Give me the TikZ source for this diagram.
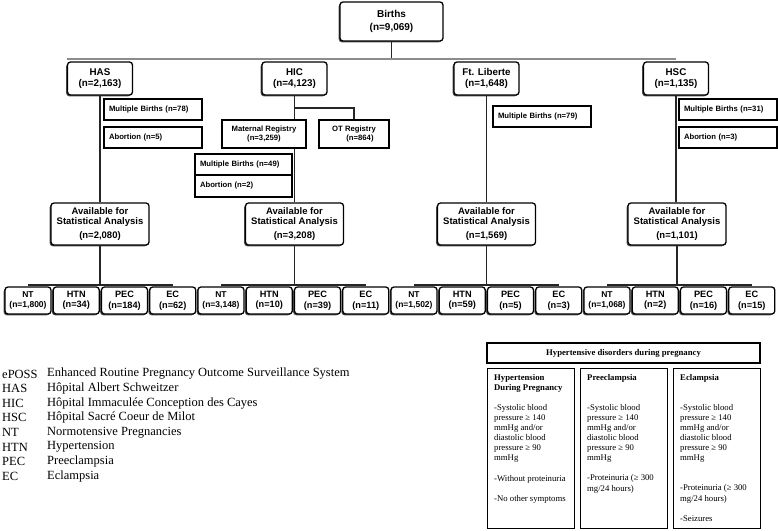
\documentclass[tikz,border=0pt]{standalone}
\usepackage{fontspec}
\setmainfont{Liberation Sans}
\newfontfamily\tnr{Liberation Serif}
\usetikzlibrary{shadows}

\tikzset{
    box/.style={draw, line width=1.3pt, rounded corners=3pt, fill=white, align=center, inner sep=0pt,
        drop shadow={shadow xshift=-1.3pt, shadow yshift=-1.3pt, fill=black!70, opacity=1}},
    sitebox/.style={box, minimum width=65pt, minimum height=33pt, font=\bfseries\fontsize{9.8}{11}\selectfont},
    availbox/.style={box, minimum width=98pt, minimum height=42pt, font=\bfseries\fontsize{9.5}{10.5}\selectfont},
    outbox/.style={box, minimum width=46pt, minimum height=27pt},
    exclbox/.style={draw, line width=1.1pt, fill=white, inner xsep=5pt, inner ysep=0pt, text width=#1,
        minimum height=21pt, align=left, font=\bfseries\fontsize{7.7}{9}\selectfont},
    exclbox/.default=88pt,
    regbox/.style={draw, line width=1.1pt, fill=white, inner sep=0pt, minimum height=28pt, align=center,
        font=\bfseries\fontsize{7.7}{9.5}\selectfont},
    link/.style={line width=1.1pt, black!85},
    abbr/.style={anchor=west, inner sep=0pt, font=\tnr\fontsize{12.5}{14}\selectfont},
    tabbox/.style={draw, line width=1.1pt, inner sep=0pt, anchor=north west},
    tabtext/.style={anchor=north west, inner sep=0pt, align=left, font=\tnr\fontsize{8.7}{10.1}\selectfont}
}

\begin{document}
\begin{tikzpicture}[x=1pt, y=-1pt]
    \useasboundingbox (0,0) rectangle (778,530);

    % Top of the tree
    \node[box, minimum width=103pt, minimum height=39pt, font=\bfseries\fontsize{10}{13}\selectfont] (births) at (391.5,21.5) {Births\\(n=9,069)};
    \coordinate (bus) at (0,59);

    % Sites
    \node[sitebox] (has) at (100,78.5) {HAS\\(n=2,163)};
    \node[sitebox] (hic) at (294.5,78.5) {HIC\\(n=4,123)};
    \node[sitebox] (ftl) at (486.5,78.5) {Ft. Liberte\\(n=1,648)};
    \node[sitebox] (hsc) at (676,78.5) {HSC\\(n=1,135)};

    \draw[link] (births.south) -- (births.south |- bus);
    \draw[line width=1.1pt, black!45] (has.north west |- bus) -- (hsc.north |- bus);

    % HAS exclusions
    \node[exclbox] (hasmb) at (153,109.5) {Multiple Births (n=78)};
    \node[exclbox] (hasab) at (153,137.5) {Abortion (n=5)};

    % HIC registries and exclusions
    \node[regbox, minimum width=84pt] (matreg) at (264,134) {Maternal Registry\\(n=3,259)};
    \node[regbox, minimum width=70pt] (otreg) at (354,134) {OT Registry\\\hspace*{12pt}(n=864)};
    \node[exclbox=87pt] (hicmb) at (243.5,164.5) {Multiple Births (n=49)};
    \node[exclbox=87pt, minimum height=22pt] (hicab) at (243.5,186) {Abortion (n=2)};

    % Ft. Liberte and HSC exclusions
    \node[exclbox] (ftlmb) at (542,116.5) {Multiple Births (n=79)};
    \node[exclbox] (hscmb) at (728,109.5) {Multiple Births (n=31)};
    \node[exclbox] (hscab) at (728,137.5) {Abortion (n=3)};

    % Available for analysis
    \node[availbox] (avhas) at (100,224) {Available for\\Statistical Analysis\\[3pt](n=2,080)};
    \node[availbox] (avhic) at (294.5,224) {Available for\\Statistical Analysis\\[3pt](n=3,208)};
    \node[availbox] (avftl) at (486.5,224) {Available for\\Statistical Analysis\\[3pt](n=1,569)};
    \node[availbox] (avhsc) at (677,224) {Available for\\Statistical Analysis\\[3pt](n=1,101)};

    \draw[link] (has.south) -- (avhas.north);
    \draw[link] (hic.south) -- (hic.south |- matreg.north);
    \draw[link] (matreg.south -| hic.south) -- (avhic.north);
    \coordinate (split) at (0,108);
    \draw[link] (hic.south |- split) -- (otreg.north |- split) -- (otreg.north);
    \draw[link] (ftl.south) -- (avftl.north);
    \draw[link] (hsc.south) -- (hsc.south |- avhsc.north);

    % Outcomes
    \coordinate (bar) at (0,285);
    \foreach \lab/\num/\fs [count=\i from 0] in {NT/{1,800}/8.5, HTN/34/9.2, PEC/184/9.2, EC/62/9.2,
        NT/{3,148}/8.5, HTN/10/9.2, PEC/39/9.2, EC/11/9.2,
        NT/{1,502}/8.5, HTN/59/9.2, PEC/5/9.2, EC/3/9.2,
        NT/{1,068}/8.5, HTN/2/9.2, PEC/16/9.2, EC/15/9.2} {
        \node[outbox, font=\bfseries\fontsize{\fs}{10.5}\selectfont] (o\i) at (28+48.25*\i,300.5) {\lab\\(n=\num)};
    }
    \foreach \av/\a/\b in {avhas/0/3, avhic/4/7, avftl/8/11, avhsc/12/15} {
        \draw[link] (\av.south) -- (\av.south |- bar);
        \draw[link] (o\a.north |- bar) -- (o\b.north |- bar);
    }

    % Abbreviations
    \foreach \ab/\txt [count=\i from 0] in {ePOSS/Enhanced Routine Pregnancy Outcome Surveillance System,
        HAS/Hôpital Albert Schweitzer, HIC/Hôpital Immaculée Conception des Cayes,
        HSC/Hôpital Sacré Coeur de Milot, NT/Normotensive Pregnancies, HTN/Hypertension,
        PEC/Preeclampsia, EC/Eclampsia} {
        \node[abbr] (ab\i) at (2,374+14.6*\i) {\ab};
        \node[abbr] (de\i) at (47,374+14.6*\i) {\txt};
    }

    % Table of definitions
    \node[draw, line width=1.1pt, minimum width=273pt, minimum height=20pt, inner sep=0pt,
        font=\tnr\bfseries\fontsize{8.7}{10}\selectfont] (tabhead) at (623.5,353) {Hypertensive disorders during pregnancy};
    \node[tabbox, minimum width=87pt, minimum height=160pt] (col1) at (487,368) {};
    \node[tabbox, minimum width=87pt, minimum height=160pt] (col2) at (580,368) {};
    \node[tabbox, minimum width=87pt, minimum height=160pt] (col3) at (673,368) {};

    \node[tabtext] (txt1) at (494,374) {\textbf{Hypertension}\\\textbf{During Pregnancy}\\[10pt]
        -Systolic blood\\pressure ≥ 140\\mmHg and/or\\diastolic blood\\pressure ≥ 90\\mmHg\\[10pt]
        -Without proteinuria\\[10pt]-No other symptoms};
    \node[tabtext] (txt2) at (587,374) {\textbf{Preeclampsia}\\[20pt]
        -Systolic blood\\pressure ≥ 140\\mmHg and/or\\diastolic blood\\pressure ≥ 90\\mmHg\\[10pt]
        -Proteinuria (≥ 300\\mg/24 hours)};
    \node[tabtext] (txt3) at (680,374) {\textbf{Eclampsia}\\[20pt]
        -Systolic blood\\pressure ≥ 140\\mmHg and/or\\diastolic blood\\pressure ≥ 90\\mmHg\\[20pt]
        -Proteinuria (≥ 300\\mg/24 hours)\\[10pt]-Seizures};
\end{tikzpicture}
\end{document}
